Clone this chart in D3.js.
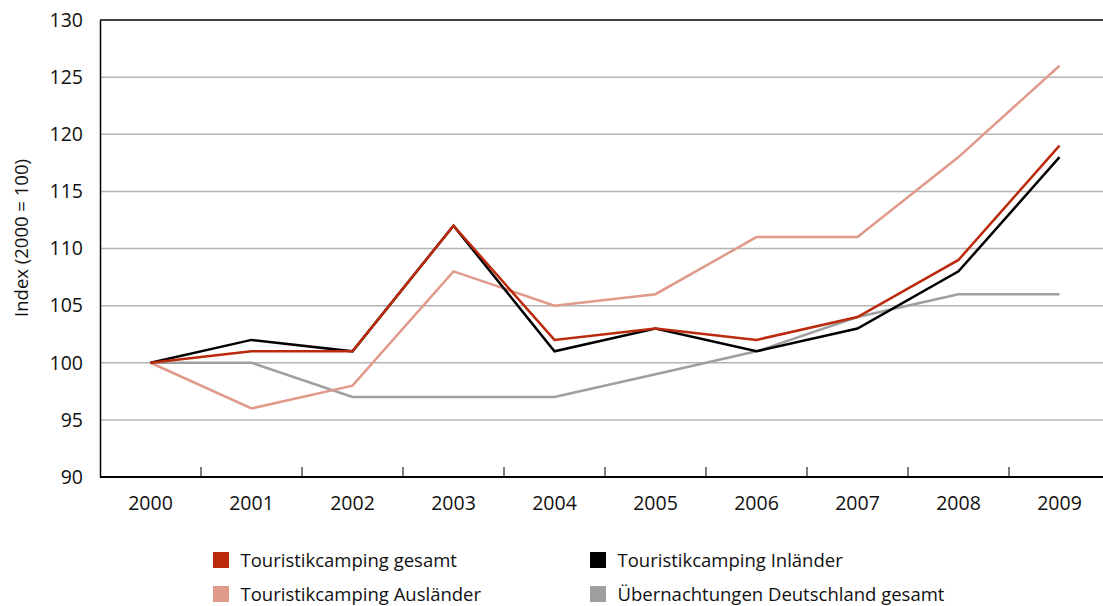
<!DOCTYPE html>
<html>
<head>
<meta charset="utf-8">
<script src="https://cdn.jsdelivr.net/npm/d3@7"></script>
<style>
  body { margin: 0; background: #fff; }
  svg { display: block; font-family: "Open Sans", "Noto Sans", sans-serif; }
</style>
</head>
<body>
<script>
var years = ["2000", "2001", "2002", "2003", "2004", "2005", "2006", "2007", "2008", "2009"];
var seriesNames = ["Touristikcamping gesamt", "Touristikcamping Inländer", "Touristikcamping Ausländer", "Übernachtungen Deutschland gesamt"];
var gesamt = [100, 101, 101, 112, 102, 103, 102, 104, 109, 119];
var inlaender = [100, 102, 101, 112, 101, 103, 101, 103, 108, 118];
var auslaender = [100, 96, 98, 108, 105, 106, 111, 111, 118, 126];
var deutschland = [100, 100, 97, 97, 97, 99, 101, 104, 106, 106];
var yTicks = [90, 95, 100, 105, 110, 115, 120, 125, 130];
var colors = ["#bb2a0c", "#000000", "#e09a8a", "#9f9f9f"];

var width = 1103, height = 606;
var plotLeft = 100, plotTop = 20, plotBottom = 477, plotRight = 1110;

var svg = d3.select("body").append("svg")
    .attr("width", width)
    .attr("height", height);

var x = d3.scaleBand().domain(years).range([plotLeft, plotRight]);
var y = d3.scaleLinear().domain([90, 130]).range([plotBottom, plotTop]);

// grid lines
svg.append("g")
    .selectAll("line")
    .data(yTicks.filter(function (d) { return d > 90 && d < 130; }))
    .enter().append("line")
    .attr("x1", plotLeft).attr("x2", width)
    .attr("y1", function (d) { return y(d); })
    .attr("y2", function (d) { return y(d); })
    .attr("stroke", "#b3b3b3")
    .attr("stroke-width", 1.5);

// y axis
var yAxis = svg.append("g")
    .attr("transform", "translate(" + plotLeft + ",0)")
    .call(d3.axisLeft(y).tickValues(yTicks).tickSize(0).tickPadding(17))
    .attr("font-family", null);
yAxis.select(".domain").attr("stroke", "#000").attr("stroke-width", 1.5);
yAxis.selectAll("text").attr("font-size", 19.5).attr("fill", "#111");

// top border line
svg.append("line")
    .attr("x1", plotLeft).attr("x2", width)
    .attr("y1", plotTop).attr("y2", plotTop)
    .attr("stroke", "#000").attr("stroke-width", 1.5);

// x axis
var xAxis = svg.append("g")
    .attr("transform", "translate(0," + plotBottom + ")")
    .call(d3.axisBottom(x).tickSize(0).tickPadding(19))
    .attr("font-family", null);
xAxis.select(".domain").attr("stroke", "#000").attr("stroke-width", 2).attr("d", "M" + plotLeft + ",0H" + width);
xAxis.selectAll("text").attr("font-size", 19.5).attr("fill", "#111");

// tick marks between years
svg.append("g")
    .selectAll("line")
    .data(years.slice(1))
    .enter().append("line")
    .attr("x1", function (d) { return x(d); })
    .attr("x2", function (d) { return x(d); })
    .attr("y1", plotBottom - 10).attr("y2", plotBottom)
    .attr("stroke", "#000").attr("stroke-width", 1);

// y label
svg.append("text")
    .attr("transform", "translate(28,238) rotate(-90)")
    .attr("text-anchor", "middle")
    .attr("font-size", 18.5)
    .attr("fill", "#111")
    .text("Index (2000 = 100)");

var allSeries = [deutschland, auslaender, inlaender, gesamt];
var allColors = [colors[3], colors[2], colors[1], colors[0]];

var line = d3.line()
    .x(function (d, i) { return x(years[i]) + x.bandwidth() / 2; })
    .y(function (d) { return y(d); });

svg.append("g")
    .selectAll("path")
    .data(allSeries)
    .enter().append("path")
    .attr("d", function (d) { return line(d); })
    .attr("fill", "none")
    .attr("stroke", function (d, i) { return allColors[i]; })
    .attr("stroke-width", 2.5)
    .attr("stroke-linejoin", "miter");

// legend
var legendPos = [[213, 552], [590, 552], [213, 586], [590, 586]];
var legend = svg.append("g")
    .selectAll("g")
    .data(seriesNames)
    .enter().append("g")
    .attr("transform", function (d, i) { return "translate(" + legendPos[i][0] + "," + legendPos[i][1] + ")"; });
legend.append("rect")
    .attr("width", 16).attr("height", 16)
    .attr("fill", function (d, i) { return colors[i]; });
legend.append("text")
    .attr("x", 27.5).attr("y", 14.5)
    .attr("font-size", 18.5)
    .attr("fill", "#111")
    .text(function (d) { return d; });
</script>
</body>
</html>
